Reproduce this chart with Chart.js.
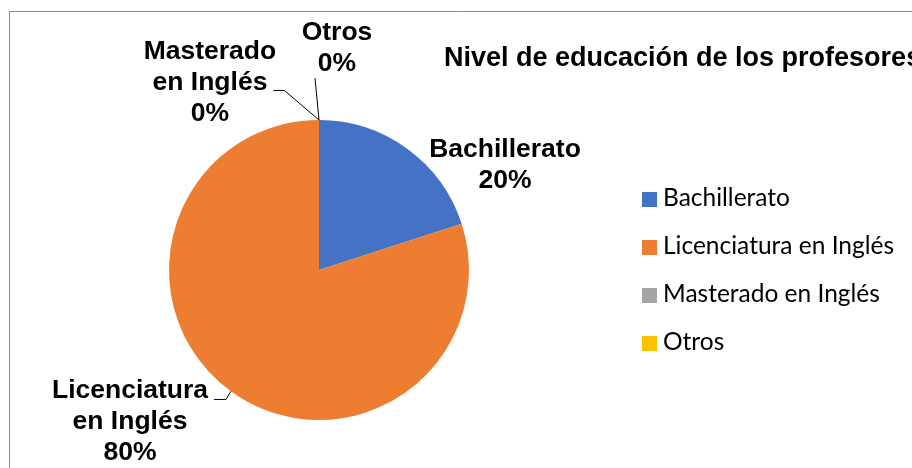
<!DOCTYPE html>
<html>
<head>
<meta charset="utf-8">
<script src="https://cdn.jsdelivr.net/npm/chart.js@4.4.1/dist/chart.umd.min.js"></script>
<style>
  html, body { margin: 0; padding: 0; background: #ffffff; }
  #c { display: block; }
</style>
</head>
<body>
<canvas id="c" width="912" height="468"></canvas>
<script>
const categories = ['Bachillerato', 'Licenciatura en Inglés', 'Masterado en Inglés', 'Otros'];
const values = [20, 80, 0, 0];
const sliceColors = ['#4472C4', '#ED7D31', '#A5A5A5', '#FFC000'];
const labelLines = [
  ['Bachillerato'],
  ['Licenciatura', 'en Inglés'],
  ['Masterado', 'en Inglés'],
  ['Otros']
];
const chartTitle = 'Nivel de educación de los profesores';

// label placement (in units of the pie radius, relative to centre): centre-x, first baseline y
const labelPlace = [
  { dx: 1.24, dy: -0.753, leader: null },
  { dx: -1.26, dy: 0.853, leader: { side: 'right', elbow: 12 } },
  { dx: -0.727, dy: -1.407, leader: { side: 'right', elbow: 11 } },
  { dx: 0.12, dy: -1.533, leader: { side: 'below' } }
];

const LABEL_FONT = 'bold 26.5px "Liberation Sans", Arial, sans-serif';
const TITLE_FONT = 'bold 27px "Liberation Sans", Arial, sans-serif';
const LEGEND_FONT = '24.5px Lato, "Open Sans", sans-serif';
const LINE_H = 31;

const decorPlugin = {
  id: 'decor',
  beforeDraw(chart) {
    const ctx = chart.ctx;
    ctx.save();
    ctx.fillStyle = '#ffffff';
    ctx.fillRect(0, 0, chart.width, chart.height);
    ctx.strokeStyle = '#8a8a8a';
    ctx.lineWidth = 1;
    ctx.beginPath();
    ctx.moveTo(9.5, chart.height + 2);
    ctx.lineTo(9.5, 11.5);
    ctx.lineTo(chart.width + 2, 11.5);
    ctx.stroke();
    ctx.restore();
  },
  afterDraw(chart) {
    const ctx = chart.ctx;
    const meta = chart.getDatasetMeta(0);
    const data = chart.data.datasets[0].data;
    const total = data.reduce((a, b) => a + b, 0);
    ctx.save();

    // title
    ctx.fillStyle = '#000000';
    ctx.font = TITLE_FONT;
    ctx.textAlign = 'left';
    ctx.textBaseline = 'alphabetic';
    ctx.fillText(chartTitle, 444, 66);

    // data labels
    meta.data.forEach((arc, i) => {
      const cx = arc.x, cy = arc.y, r = arc.outerRadius;
      const p = labelPlace[i];
      const lx = cx + p.dx * r;
      const ly = cy + p.dy * r;
      const pct = Math.round(data[i] / total * 100) + '%';
      const lines = labelLines[i].concat([pct]);
      ctx.font = LABEL_FONT;
      ctx.fillStyle = '#000000';
      ctx.textAlign = 'center';
      lines.forEach((t, k) => ctx.fillText(t, lx, ly + k * LINE_H));

      if (p.leader) {
        const mid = (arc.startAngle + arc.endAngle) / 2;
        const ex = cx + r * Math.cos(mid);
        const ey = cy + r * Math.sin(mid);
        ctx.strokeStyle = '#000000';
        ctx.lineWidth = 1;
        ctx.beginPath();
        if (p.leader.side === 'right') {
          let startX, startY;
          if (i === 1) {
            const w0 = ctx.measureText(lines[0]).width;
            startX = lx + w0 / 2 + 6;
            startY = ly + 1.5;
          } else {
            const w1 = ctx.measureText(lines[1]).width;
            startX = lx + w1 / 2 + 6;
            startY = ly + LINE_H + 0.5;
          }
          ctx.moveTo(startX, startY);
          ctx.lineTo(startX + p.leader.elbow, startY);
          ctx.lineTo(ex, ey);
        } else {
          ctx.moveTo(lx - 22, ly + LINE_H + 7);
          ctx.lineTo(ex, ey);
        }
        ctx.stroke();
      }
    });

    // legend
    const lgX = 642, lgY0 = 192, lgStep = 48;
    ctx.textAlign = 'left';
    ctx.font = LEGEND_FONT;
    chart.data.labels.forEach((lab, i) => {
      const y = lgY0 + i * lgStep;
      ctx.fillStyle = chart.data.datasets[0].backgroundColor[i];
      ctx.fillRect(lgX, y, 15, 15);
      ctx.fillStyle = '#000000';
      ctx.fillText(lab, lgX + 21, y + 14);
    });
    ctx.restore();
  }
};

new Chart(document.getElementById('c'), {
  type: 'pie',
  data: {
    labels: categories,
    datasets: [{
      data: values,
      backgroundColor: sliceColors,
      borderWidth: 0
    }]
  },
  options: {
    responsive: false,
    animation: false,
    events: [],
    layout: { padding: { left: 169, right: 443, top: 120, bottom: 48 } },
    plugins: {
      legend: { display: false },
      title: { display: false },
      tooltip: { enabled: false }
    }
  },
  plugins: [decorPlugin]
});
</script>
</body>
</html>
